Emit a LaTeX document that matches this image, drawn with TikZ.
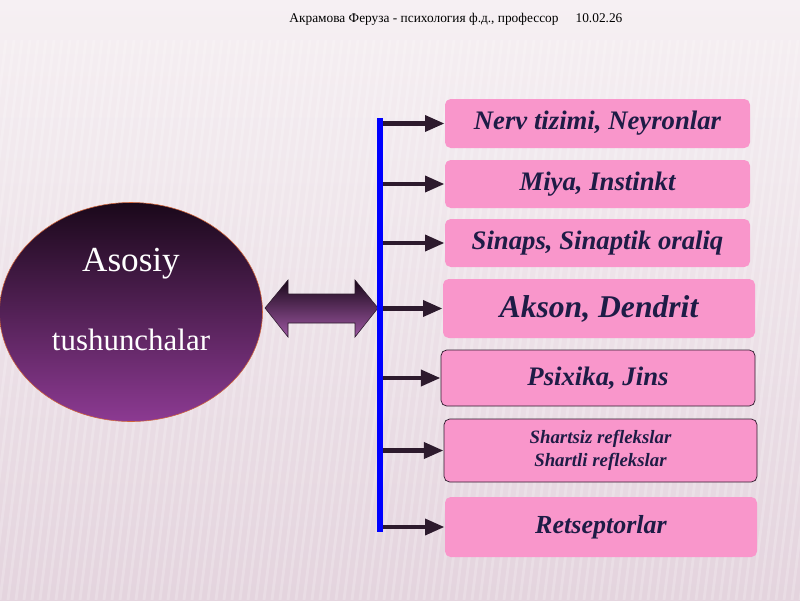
\documentclass[tikz,border=0pt]{standalone}
\usepackage{fontspec}
\setmainfont{Liberation Serif}
\usetikzlibrary{shapes.geometric,arrows.meta}

\definecolor{bgtop}{RGB}{246,240,243}
\definecolor{bgbot}{RGB}{228,212,222}
\definecolor{boxpink}{RGB}{249,150,203}
\definecolor{boxtext}{RGB}{30,28,70}
\definecolor{plumtop}{RGB}{26,8,26}
\definecolor{plumbot}{RGB}{140,58,146}
\definecolor{arrowdark}{RGB}{45,26,45}

\begin{document}
\begin{tikzpicture}[x=0.025cm,y=-0.025cm,
    every node/.style={inner sep=0pt},
    item/.style={fill=boxpink,rounded corners=4pt,font=\bfseries\itshape,
      text=boxtext,align=center},
    itemline/.style={item,draw=arrowdark,line width=0.5pt},
    link/.style={arrowdark,line width=3.4pt,
      -{Triangle[length=14pt,width=11pt]}},
  ]
  \useasboundingbox (0,0) rectangle (800,600);
  % background
  \shade[top color=bgtop,bottom color=bgbot] (0,0) rectangle (800,600);
  \begin{scope}
    \clip (0,40) rectangle (800,600);
    \foreach \sx in {-80,-72,...,800}
      \draw[white,opacity=0.2,line width=2pt] (\sx,600) -- (\sx+70,40);
  \end{scope}

  % header
  \node[font=\fontsize{9.5}{11}\selectfont] (author) at (424,19)
    {Акрамова Феруза - психология ф.д., профессор};
  \node[font=\fontsize{9.5}{11}\selectfont] (date) at (599,18) {10.02.26};

  % main ellipse
  \node[ellipse,top color=plumtop,bottom color=plumbot,draw=orange!60!plumbot,
    line width=0.4pt,minimum width=263*0.025cm,minimum height=219*0.025cm]
    (main) at (131,312) {};
  \node[text=white,font=\fontsize{25}{28}\selectfont] (asosiy) at (131,264) {Asosiy};
  \node[text=white,font=\fontsize{22}{25}\selectfont] (tush) at (131,340) {tushunchalar};

  % bus bar
  \coordinate (bartop) at (380,118);
  \coordinate (barbot) at (380,532);
  \coordinate (bardbl) at (378,308);
  \coordinate (maindbl) at (265,308);

  % double arrow between ellipse and bar
  \shade[top color=plumtop,bottom color=plumbot!85!white,draw=arrowdark,line width=0.4pt]
    (maindbl) -- ++(23,-28) -- ++(0,14) -- ++(67,0) -- ++(0,-14)
    -- (bardbl) -- ++(-23,29) -- ++(0,-14) -- ++(-67,0) -- ++(0,14) -- cycle;

  % items
  \node[item,minimum width=305*0.025cm,minimum height=49*0.025cm,
    font=\fontsize{19}{22}\selectfont\bfseries\itshape] (nerv) at (597.5,123.5)
    {Nerv tizimi, Neyronlar};
  \node[item,minimum width=305*0.025cm,minimum height=48*0.025cm,
    font=\fontsize{19}{22}\selectfont\bfseries\itshape] (miya) at (597.5,184)
    {Miya, Instinkt};
  \node[item,minimum width=305*0.025cm,minimum height=48*0.025cm,
    font=\fontsize{19}{22}\selectfont\bfseries\itshape] (sinaps) at (597.5,243)
    {Sinaps, Sinaptik oraliq};
  \node[item,minimum width=312*0.025cm,minimum height=59*0.025cm,
    font=\fontsize{22.5}{25}\selectfont\bfseries\itshape] (akson) at (599,308.5)
    {Akson, Dendrit};
  \node[itemline,minimum width=314*0.025cm,minimum height=56*0.025cm,
    font=\fontsize{19}{22}\selectfont\bfseries\itshape] (psixika) at (598,378)
    {Psixika, Jins};
  \node[itemline,minimum width=313*0.025cm,minimum height=63*0.025cm,
    font=\fontsize{13.4}{16}\selectfont\bfseries\itshape] (refleks) at (600.5,450.5)
    {Shartsiz reflekslar\\Shartli reflekslar};
  \node[item,minimum width=312*0.025cm,minimum height=60*0.025cm,
    font=\fontsize{18.5}{21}\selectfont\bfseries\itshape] (retsep) at (601,527)
    {Retseptorlar};

  % connectors
  \foreach \it in {nerv,miya,sinaps,akson,psixika,refleks,retsep}
    \draw[link] (bartop|-\it.west) -- (\it.west);
  \draw[blue,line width=3.6pt] (bartop) -- (barbot);
\end{tikzpicture}
\end{document}
